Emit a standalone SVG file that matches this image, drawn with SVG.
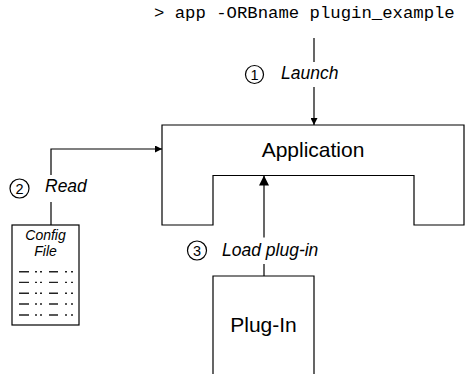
<svg xmlns="http://www.w3.org/2000/svg" width="465" height="374" viewBox="0 0 465 374">
<defs>
<style>
.ln{fill:none;stroke:#000;stroke-width:1.2}
.box{fill:#fff;stroke:#000;stroke-width:1.2}
.lbl{font-family:"Liberation Sans",Arial,sans-serif;font-style:italic;font-size:17.5px;fill:#000}
.num{font-family:"Liberation Sans",Arial,sans-serif;font-size:14.5px;fill:#000;text-anchor:middle}
.big{font-family:"Liberation Sans",Arial,sans-serif;font-size:21px;fill:#000;text-anchor:middle}
.cfg{font-family:"Liberation Sans",Arial,sans-serif;font-style:italic;font-size:14px;fill:#000;text-anchor:middle}
.cmd{font-family:"Liberation Mono","Courier New",monospace;font-size:17.3px;fill:#000}
.dash{fill:none;stroke:#222;stroke-width:1.4;stroke-dasharray:10 6 2 3 2 7 9 7 2 4 2}
</style>
<marker id="ah" viewBox="0 0 10 10" refX="10" refY="5" markerWidth="7" markerHeight="7" markerUnits="userSpaceOnUse" orient="auto"><path d="M0,0 L10,5 L0,10 Z" fill="#000"/></marker>
<marker id="ahb" viewBox="0 0 10 10" refX="10" refY="5" markerWidth="10" markerHeight="10" markerUnits="userSpaceOnUse" orient="auto"><path d="M0,0 L10,5 L0,10 Z" fill="#000"/></marker>
</defs>
<rect width="465" height="374" fill="#fff"/>
<text id="command" class="cmd" x="154" y="17.5">&gt; app -ORBname plugin_example</text>
<g id="application">
<path class="box" d="M162,125 H464 V225 H414 V175.5 H213 V225 H162 Z"/>
<text class="big" x="313" y="157">Application</text>
</g>
<g id="plugin">
<path class="box" d="M213,376 V276 H314 V376"/>
<text class="big" x="263.5" y="332">Plug-In</text>
</g>
<g id="config">
<rect class="box" x="12" y="225" width="67" height="100"/>
<text class="cfg" x="45.5" y="240">Config</text>
<text class="cfg" x="45.5" y="256">File</text>
<path class="dash" d="M19,271.7 H74 M19,282.4 H74 M19,293.2 H74 M19,304 H74 M19,315 H74"/>
</g>
<g id="connectors">
<path class="ln" d="M314,38 V62"/>
<path class="ln" d="M314,87 V125" marker-end="url(#ah)"/>
<path class="ln" d="M51,225 V202"/>
<path class="ln" d="M51,175 V149 H162" marker-end="url(#ah)"/>
<path class="ln" d="M264,276 V264"/>
<path class="ln" d="M264,237.5 V175.5" marker-end="url(#ahb)"/>
</g>
<g id="label-launch">
<circle class="ln" cx="254.5" cy="74.5" r="9"/>
<text class="num" x="254.5" y="79.7">1</text>
<text class="lbl" x="281" y="79">Launch</text>
</g>
<g id="label-read">
<circle class="ln" cx="19.5" cy="188.5" r="9.5"/>
<text class="num" x="19.5" y="193.7">2</text>
<text class="lbl" x="45" y="192">Read</text>
</g>
<g id="label-load">
<circle class="ln" cx="197" cy="250.5" r="9.5"/>
<text class="num" x="197" y="255.7">3</text>
<text class="lbl" x="222" y="256">Load plug-in</text>
</g>
</svg>
